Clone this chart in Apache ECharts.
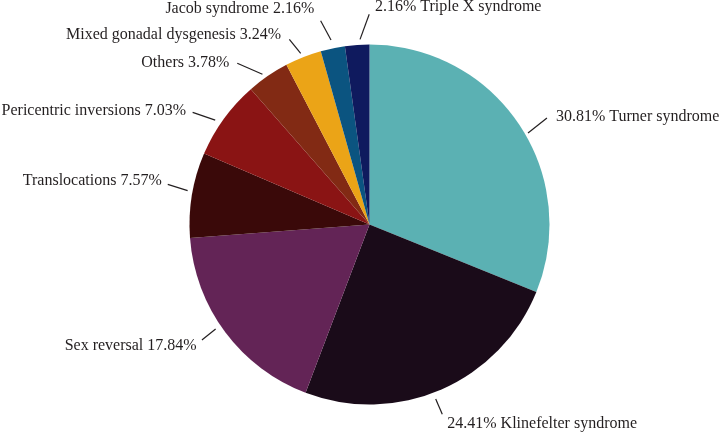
<!DOCTYPE html>
<html><head><meta charset="utf-8">
<script src="https://cdn.jsdelivr.net/npm/echarts@6/dist/echarts.min.js"></script>
<style>html,body{margin:0;padding:0;background:#fff}#c{width:723px;height:434px}</style>
</head><body><div id="c"></div>
<script>
// ---- data ----
const categories = ['Turner syndrome', 'Klinefelter syndrome', 'Sex reversal', 'Translocations',
  'Pericentric inversions', 'Others', 'Mixed gonadal dysgenesis', 'Jacob syndrome', 'Triple X syndrome'];
const percentages = [30.81, 24.41, 17.84, 7.57, 7.03, 3.78, 3.24, 2.16, 2.16];
// ---- style ----
const colors = ['#5BB1B3', '#1A0B19', '#632456', '#3A0909', '#8A1414', '#822A14', '#EBA417', '#0B5480', '#0F1A5E'];
const percentFirst = [true, true, false, false, false, false, false, false, true];
// label line tweaks: [angle shift inner (deg), angle shift outer (deg), r inner, r outer, text gap, text dy]
const labelTweaks = [
  [4.0, 3.0, 183, 207, 9, -1],
  [2.8, 2.6, 186.6, 203.3, 5, 9.4],
  [2.6, 2.2, 186, 203.5, 5.3, 6],
  [1.1, 1.8, 185, 205.7, 6, -3.7],
  [-1.9, -3.6, 186.3, 209.4, 6.7, -2],
  [-1.1, -5.0, 184.5, 208.5, 8, -0.6],
  [-0.3, -1.8, 184.5, 201.8, 8.3, -4.9],
  [0, -1.7, 188.5, 209.6, 6.4, -12.3],
  [1.0, 3.85, 185.4, 210.2, 5.7, -7.2]
];
const CX = 369.5, CY = 224.5, R = 180;

const chart = echarts.init(document.getElementById('c'), null, {renderer: 'canvas'});
chart.setOption({
  animation: false,
  backgroundColor: '#ffffff',
  series: [{
    type: 'pie',
    center: [CX, CY],
    radius: [0, R],
    startAngle: 90,
    clockwise: true,
    avoidLabelOverlap: false,
    data: categories.map((n, i) => ({name: n, value: percentages[i], itemStyle: {color: colors[i]}})),
    itemStyle: {borderWidth: 0},
    label: {
      show: true,
      position: 'outside',
      fontFamily: 'Liberation Serif',
      fontSize: 16,
      color: '#231F20',
      formatter: p => percentFirst[p.dataIndex]
        ? percentages[p.dataIndex].toFixed(2) + '% ' + p.name
        : p.name + ' ' + percentages[p.dataIndex].toFixed(2) + '%'
    },
    labelLine: {show: true, length: 20, length2: 0, lineStyle: {color: '#231F20', width: 1.2}},
    emphasis: {disabled: true},
    labelLayout: function (p) {
      const t = labelTweaks[p.dataIndex];
      const pts = p.labelLinePoints;
      if (!pts) return {};
      const p0 = pts[0];
      const base = Math.atan2(p0[0] - CX, -(p0[1] - CY));
      const a1 = base + t[0] * Math.PI / 180, a2 = base + t[1] * Math.PI / 180;
      const pin = [CX + t[2] * Math.sin(a1), CY - t[2] * Math.cos(a1)];
      const pout = [CX + t[3] * Math.sin(a2), CY - t[3] * Math.cos(a2)];
      const right = pout[0] >= CX - 1;
      return {
        x: pout[0] + (right ? t[4] : -t[4]),
        y: pout[1] + t[5],
        align: right ? 'left' : 'right',
        verticalAlign: 'middle',
        labelLinePoints: [pin, pout, pout]
      };
    }
  }]
});
</script></body></html>
